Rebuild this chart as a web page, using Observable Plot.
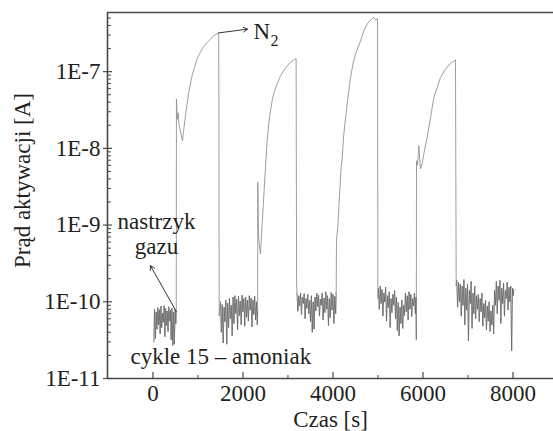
<!DOCTYPE html>
<html><head><meta charset="utf-8">
<script src="https://cdn.jsdelivr.net/npm/d3@7"></script>
<script src="https://cdn.jsdelivr.net/npm/@observablehq/plot@0.6"></script>
<style>body{margin:0;background:#fff} svg{display:block}</style>
</head><body><div id="chart"></div>
<script>
// ---- axes ----
const xDomain = [-1010, 8900];
const yDomain = [1e-11, 5.9e-7];
const xTicksMajor = [0, 2000, 4000, 6000, 8000];
const xTickLabels = ["0", "2000", "4000", "6000", "8000"];
const xTicksMinor = [1000, 3000, 5000, 7000];
const yTicksMajor = [1e-11, 1e-10, 1e-9, 1e-8, 1e-7];
const yTickLabels = ["1E-11", "1E-10", "1E-9", "1E-8", "1E-7"];
const yMinorFactors = [2, 3, 4, 5, 6, 7, 8, 9];
const xTitle = "Czas [s]";
const yTitle = "Prąd aktywacji [A]";

// ---- data: [time s, current A] ----
const base1 = [[20,3.0e-11],[35,8.0e-11],[55,3.3e-11],[72,7.4e-11],[90,4.4e-11],[108,8.4e-11],[125,5.0e-11],[142,7.9e-11],[160,3.8e-11],[178,8.8e-11],[195,4.6e-11],[212,7.1e-11],[230,5.4e-11],[248,8.9e-11],[265,3.5e-11],[282,8.2e-11],[300,4.9e-11],[318,7.6e-11],[335,4.1e-11],[352,8.6e-11],[370,5.6e-11],[388,7.8e-11],[405,3.2e-11],[422,8.3e-11],[440,2.7e-11],[458,7.3e-11],[475,2.8e-11],[492,8.0e-11],[508,5.2e-11],[518,7.2e-11]];
const rise1 = [[522,4.4e-8],[540,2.4e-8],[560,2.9e-8],[575,2.1e-8],[656,1.26e-8],[722,2.67e-8],[796,5.4e-8],[870,8.9e-8],[981,1.47e-7],[1092,1.98e-7],[1204,2.41e-7],[1352,2.94e-7],[1462,3.2e-7],[1472,6.5e-11]];
const base2 = [[1500,1.0e-10],[1520,4.0e-11],[1540,9.2e-11],[1560,2.9e-11],[1580,8.5e-11],[1600,5.5e-11],[1620,1.05e-10],[1640,2.8e-11],[1660,9.6e-11],[1680,4.6e-11],[1700,1.1e-10],[1720,6.0e-11],[1740,9.0e-11],[1760,3.6e-11],[1780,1.15e-10],[1800,5.2e-11],[1820,1.2e-10],[1840,7.0e-11],[1860,1.08e-10],[1880,4.3e-11],[1900,1.18e-10],[1920,6.6e-11],[1940,1.02e-10],[1960,5.0e-11],[1980,1.22e-10],[2000,7.4e-11],[2020,1.1e-10],[2040,4.8e-11],[2060,1.15e-10],[2080,6.3e-11],[2100,1.05e-10],[2120,5.6e-11],[2140,1.2e-10],[2160,7.8e-11],[2180,1.12e-10],[2200,4.7e-11],[2220,1.06e-10],[2240,6.8e-11],[2260,1.18e-10],[2280,5.8e-11],[2300,1.0e-10],[2318,5.0e-11],[2326,7.5e-11]];
const rise2 = [[2329,3.6e-9],[2340,1.2e-9],[2352,6.3e-10],[2389,4.2e-10],[2420,9.0e-10],[2448,1.7e-9],[2500,5.65e-9],[2537,1.26e-8],[2589,2.54e-8],[2648,4.2e-8],[2700,5.6e-8],[2759,6.9e-8],[2830,8.7e-8],[2907,1.03e-7],[2980,1.18e-7],[3055,1.32e-7],[3120,1.41e-7],[3181,1.47e-7],[3192,1.7e-10]];
const base3 = [[3200,1.3e-10],[3220,7.5e-11],[3240,1.2e-10],[3260,8.8e-11],[3280,1.3e-10],[3300,6.8e-11],[3320,1.15e-10],[3340,9.5e-11],[3360,1.28e-10],[3380,6.0e-11],[3400,1.1e-10],[3420,8.2e-11],[3440,1.25e-10],[3460,7.0e-11],[3480,1.05e-10],[3500,5.5e-11],[3520,1.2e-10],[3540,4.0e-11],[3560,1.0e-10],[3580,4.4e-11],[3600,1.15e-10],[3620,7.6e-11],[3640,1.3e-10],[3660,8.6e-11],[3680,1.22e-10],[3700,6.5e-11],[3720,1.08e-10],[3740,9.0e-11],[3760,1.3e-10],[3780,5.8e-11],[3800,1.12e-10],[3820,7.2e-11],[3840,1.35e-10],[3860,8.0e-11],[3880,1.2e-10],[3900,4.9e-11],[3920,1.1e-10],[3940,6.2e-11],[3960,1.32e-10],[3980,7.8e-11],[4000,1.25e-10],[4020,5.2e-11],[4040,1.18e-10],[4060,7.0e-11],[4072,1.3e-10]];
const rise3 = [[4078,6.3e-10],[4107,9.3e-10],[4130,1.7e-9],[4182,5.65e-9],[4204,7.3e-9],[4241,1.54e-8],[4315,3.8e-8],[4389,8.4e-8],[4450,1.3e-7],[4500,1.7e-7],[4611,2.5e-7],[4685,3.4e-7],[4760,4.2e-7],[4833,4.7e-7],[4907,5.1e-7],[4944,4.7e-7],[4990,4.9e-7],[4998,1.1e-10]];
const base4 = [[5010,1.5e-10],[5030,8.0e-11],[5050,1.6e-10],[5070,9.5e-11],[5090,1.45e-10],[5110,6.5e-11],[5130,1.3e-10],[5150,1.0e-10],[5170,1.55e-10],[5190,5.6e-11],[5210,1.2e-10],[5230,8.4e-11],[5250,1.35e-10],[5270,4.6e-11],[5290,1.1e-10],[5310,7.2e-11],[5330,1.25e-10],[5350,9.0e-11],[5370,1.4e-10],[5390,6.0e-11],[5410,1.15e-10],[5430,4.2e-11],[5450,9.8e-11],[5470,3.6e-11],[5490,8.5e-11],[5510,5.2e-11],[5530,1.05e-10],[5550,4.5e-11],[5570,9.0e-11],[5590,6.6e-11],[5610,1.3e-10],[5630,7.4e-11],[5650,1.2e-10],[5670,5.8e-11],[5690,1.35e-10],[5710,8.0e-11],[5730,1.25e-10],[5750,6.4e-11],[5770,1.1e-10],[5790,8.8e-11],[5810,1.3e-10],[5830,7.0e-11],[5845,1.15e-10],[5852,3.2e-11]];
const rise4 = [[5856,6.9e-9],[5880,6.0e-9],[5907,1.08e-8],[5944,5.4e-9],[5981,6.3e-9],[6019,8.5e-9],[6093,1.39e-8],[6167,2.5e-8],[6241,4.6e-8],[6315,6.2e-8],[6389,8.4e-8],[6500,1.08e-7],[6611,1.28e-7],[6722,1.42e-7],[6738,1.6e-10]];
const base5 = [[6750,1.9e-10],[6770,8.5e-11],[6790,1.8e-10],[6810,1.0e-10],[6830,1.7e-10],[6850,6.5e-11],[6870,1.6e-10],[6890,9.0e-11],[6910,1.95e-10],[6930,5.0e-11],[6950,1.5e-10],[6970,7.8e-11],[6990,1.7e-10],[7010,3.1e-11],[7030,1.4e-10],[7050,9.5e-11],[7070,1.85e-10],[7090,4.5e-11],[7110,1.3e-10],[7130,7.0e-11],[7150,1.6e-10],[7170,6.0e-11],[7190,1.2e-10],[7210,8.0e-11],[7230,1.25e-10],[7250,5.5e-11],[7270,1.1e-10],[7290,7.4e-11],[7310,1.3e-10],[7330,4.8e-11],[7350,9.5e-11],[7370,6.2e-11],[7390,1.05e-10],[7410,4.3e-11],[7430,8.8e-11],[7450,5.6e-11],[7470,1.0e-10],[7490,4.1e-11],[7510,7.6e-11],[7530,5.0e-11],[7550,9.0e-11],[7570,3.8e-11],[7590,1.4e-10],[7610,9.0e-11],[7630,1.85e-10],[7650,7.0e-11],[7670,1.6e-10],[7690,1.05e-10],[7710,1.9e-10],[7730,5.2e-11],[7750,1.5e-10],[7770,9.5e-11],[7790,1.75e-10],[7810,6.5e-11],[7830,1.4e-10],[7850,1.1e-10],[7870,1.8e-10],[7890,7.8e-11],[7910,1.55e-10],[7930,1.0e-10],[7950,1.6e-10],[7970,2.3e-11],[7990,1.5e-10],[8005,1.2e-10],[8015,1.45e-10]];

// ---- annotations (data coordinates) ----
const noteText = [{t: 78, v: 8.97e-10, s: "nastrzyk"}, {t: 78, v: 4.24e-10, s: "gazu"}];
const noteArrow = [{t1: 522, v1: 7.4e-11, t2: -56, v2: 2.96e-10}];
const cycleNote = [{t: -500, v: 1.56e-11, s: "cykle 15 – amoniak"}];
const n2Arrow = [{t1: 1462, v1: 3.2e-7, t2: 2100, v2: 3.58e-7}];
const n2Main = [{t: 2233, v: 2.69e-7, s: "N"}];
const n2Sub = [{t: 2611, v: 2.18e-7, s: "2"}];

const series = [...base1, ...rise1, ...base2, ...rise2, ...base3, ...rise3, ...base4, ...rise4, ...base5];
const baselines = [base1, base2, base3, base4, base5];
const yMinor = yTicksMajor.slice(0, 4).flatMap(d => yMinorFactors.map(f => f * d)).concat([2e-7, 3e-7, 4e-7, 5e-7]);
const yLab = new Map(yTicksMajor.map((d, i) => [d, yTickLabels[i]]));
const xLab = new Map(xTicksMajor.map((d, i) => [d, xTickLabels[i]]));

const FONT = "Liberation Serif";
const AX = "#4a4a4a";
const TXT = "#231f20";
const T = {fontFamily: FONT, fontSize: 23, fill: TXT};

const chart = Plot.plot({
  width: 553, height: 431,
  marginLeft: 107, marginTop: 12, marginBottom: 53, marginRight: 0,
  style: {fontFamily: FONT, fontSize: "23px", color: TXT, background: "#fff"},
  x: {domain: xDomain},
  y: {type: "log", domain: yDomain},
  marks: [
    Plot.line(series, {x: d => d[0], y: d => d[1], stroke: "#8c8c8c", strokeWidth: 0.85}),
    ...baselines.map(b => Plot.line(b, {x: d => d[0], y: d => d[1], stroke: "#555", strokeWidth: 0.6, strokeOpacity: 0.7})),
    Plot.ruleY([yDomain[1]], {stroke: AX, strokeWidth: 1.6}),
    Plot.ruleY([yDomain[0]], {stroke: AX, strokeWidth: 1.6}),
    Plot.ruleX([xDomain[0]], {stroke: AX, strokeWidth: 1.6}),
    Plot.axisY(yTicksMajor, {text: null, label: null, tickSize: 9, dx: 5, stroke: AX, strokeWidth: 1.2}),
    Plot.axisY(yMinor, {text: null, label: null, tickSize: 4, dx: 4, stroke: AX, strokeWidth: 1}),
    Plot.axisY(yTicksMajor, {tickSize: 0, tickPadding: 7, label: null, tickFormat: d => yLab.get(d), ...T}),
    Plot.axisX(xTicksMajor, {text: null, label: null, tickSize: 6, dy: -6, stroke: AX, strokeWidth: 1.2}),
    Plot.axisX(xTicksMinor, {text: null, label: null, tickSize: 3, dy: -3, stroke: AX, strokeWidth: 1}),
    Plot.axisX(xTicksMajor, {tickSize: 0, tickPadding: 6, label: null, tickFormat: d => xLab.get(d), ...T}),
    Plot.text([xTitle], {frameAnchor: "bottom", textAnchor: "middle", lineAnchor: "bottom", dy: 48, ...T}),
    Plot.text([yTitle], {frameAnchor: "left", textAnchor: "middle", rotate: -90, lineAnchor: "middle", dx: -85, dy: -15, ...T}),
    Plot.text(noteText, {x: "t", y: "v", text: "s", lineAnchor: "bottom", textAnchor: "middle", ...T}),
    Plot.arrow(noteArrow, {x1: "t1", y1: "v1", x2: "t2", y2: "v2", stroke: "#333", strokeWidth: 1, headLength: 7}),
    Plot.text(cycleNote, {x: "t", y: "v", text: "s", lineAnchor: "bottom", textAnchor: "start", ...T}),
    Plot.arrow(n2Arrow, {x1: "t1", y1: "v1", x2: "t2", y2: "v2", stroke: "#333", strokeWidth: 1, headLength: 7}),
    Plot.text(n2Main, {x: "t", y: "v", text: "s", lineAnchor: "bottom", textAnchor: "start", ...T}),
    Plot.text(n2Sub, {x: "t", y: "v", text: "s", lineAnchor: "bottom", textAnchor: "start", ...T, fontSize: 16})
  ]
});
document.getElementById("chart").appendChild(chart);
</script>
</body></html>
